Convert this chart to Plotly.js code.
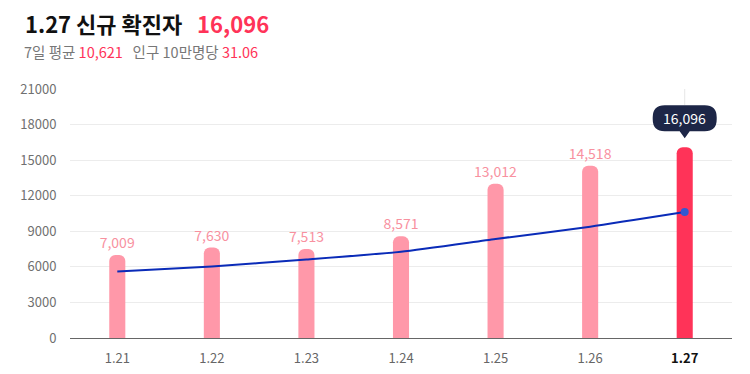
<!DOCTYPE html>
<html><head><meta charset="utf-8">
<script src="https://cdn.plot.ly/plotly-3.0.1.min.js"></script>
<style>html,body{margin:0;padding:0;background:#fff}#chart{width:750px;height:374px}</style>
</head><body><div id="chart"></div>
<script>
const categories = ['1.21','1.22','1.23','1.24','1.25','1.26','1.27'];
const dailyCases = [7009, 7630, 7513, 8571, 13012, 14518, 16096];
const weeklyAvg = [5600, 6030, 6620, 7280, 8350, 9390, 10621];
const yTicks = [0, 3000, 6000, 9000, 12000, 15000, 18000, 21000];
const headline = {date: '1.27', total: '16,096', avg: '10,621', per100k: '31.06'};

const FONT = '"Noto Sans CJK KR", "Noto Sans", sans-serif';
const last = dailyCases.length - 1;
const fmt = v => v.toLocaleString('en-US');

const W = 750, H = 374, mL = 70, mR = 18, mT = 89, mB = 36;
const pw = W - mL - mR, ph = H - mT - mB;
const px = p => (p - mL) / pw;
const py = p => (H - mB - p) / ph;

const bars = {
  type: 'bar', x: categories, y: dailyCases,
  width: 0.17,
  marker: {color: dailyCases.map((v,i)=> i===last ? '#ff3358' : '#ff98a9'), cornerradius: 6},
  text: dailyCases.map((v,i)=> i===last ? '' : fmt(v)),
  textposition: 'outside', constraintext: 'none',
  textfont: {family: FONT, size: 14, color: '#f8919f'},
  cliponaxis: false, hoverinfo: 'skip'
};
const avgLine = {
  type: 'scatter', mode: 'lines', x: categories, y: weeklyAvg,
  line: {color: '#0a2bb8', width: 2, shape: 'spline', smoothing: 0.6},
  hoverinfo: 'skip'
};
const lastDot = {
  type: 'scatter', mode: 'markers', x: [categories[last]], y: [weeklyAvg[last]],
  marker: {color: '#3358d0', size: 8}, hoverinfo: 'skip'
};

const tickText = categories.map((c,i)=> i===last ? '<b><span style="color:#111">'+c+'</span></b>' : c);

const layout = {
  width: W, height: H,
  margin: {l: mL, r: mR, t: mT, b: mB},
  paper_bgcolor: '#fff', plot_bgcolor: '#fff',
  showlegend: false,
  font: {family: FONT, color: '#666', size: 13},
  bargap: 0.83,
  xaxis: {
    type: 'category', tickvals: categories, ticktext: tickText,
    showgrid: false, showline: true, linecolor: '#666', linewidth: 1,
    ticks: 'outside', ticklen: 8, tickcolor: 'rgba(0,0,0,0)',
    tickfont: {family: FONT, size: 13, color: '#666'}, fixedrange: true
  },
  yaxis: {
    range: [0, 21000], tickvals: yTicks, ticktext: yTicks.map(String),
    showgrid: true, gridcolor: '#ececec', gridwidth: 1, zeroline: false,
    ticks: 'outside', ticklen: 10, tickcolor: 'rgba(0,0,0,0)',
    tickfont: {family: FONT, size: 13, color: '#707070'}, fixedrange: true
  },
  shapes: [
    {type: 'line', xref: 'x', yref: 'paper', x0: last, x1: last, y0: 1, y1: py(105),
     line: {color: '#e6e6e6', width: 1}, layer: 'below'},
    {type: 'path', xref: 'x', yref: 'y', xsizemode: 'pixel', ysizemode: 'pixel',
     xanchor: last, yanchor: dailyCases[last], layer: 'above',
     path: 'M -20,16 L -5,16 L 0,9 L 5,16 L 20,16 Q 32,16 32,28 L 32,30 Q 32,42 20,42 L -20,42 Q -32,42 -32,30 L -32,28 Q -32,16 -20,16 Z',
     fillcolor: '#1d2647', line: {width: 0}}
  ],
  annotations: [
    {xref: 'x', yref: 'y', x: last, y: dailyCases[last], yshift: 29, showarrow: false,
     text: fmt(dailyCases[last]), font: {family: FONT, size: 14, color: '#fff'}, xanchor: 'center', yanchor: 'middle'},
    {xref: 'paper', yref: 'paper', x: px(23), y: py(23), xanchor: 'left', yanchor: 'middle', showarrow: false,
     text: '<b>' + headline.date + ' 신규 확진자</b>   <b><span style="color:#ff3358">' + headline.total + '</span></b>',
     font: {family: FONT, size: 22, color: '#111'}},
    {xref: 'paper', yref: 'paper', x: px(22), y: py(51), xanchor: 'left', yanchor: 'middle', showarrow: false,
     text: '7일 평균 <span style="color:#ff3358">' + headline.avg + '</span>   인구 10만명당 <span style="color:#ff3358">' + headline.per100k + '</span>',
     font: {family: FONT, size: 14.5, color: '#777'}}
  ]
};

Plotly.newPlot('chart', [bars, avgLine, lastDot], layout, {displayModeBar: false, staticPlot: true});
</script></body></html>
